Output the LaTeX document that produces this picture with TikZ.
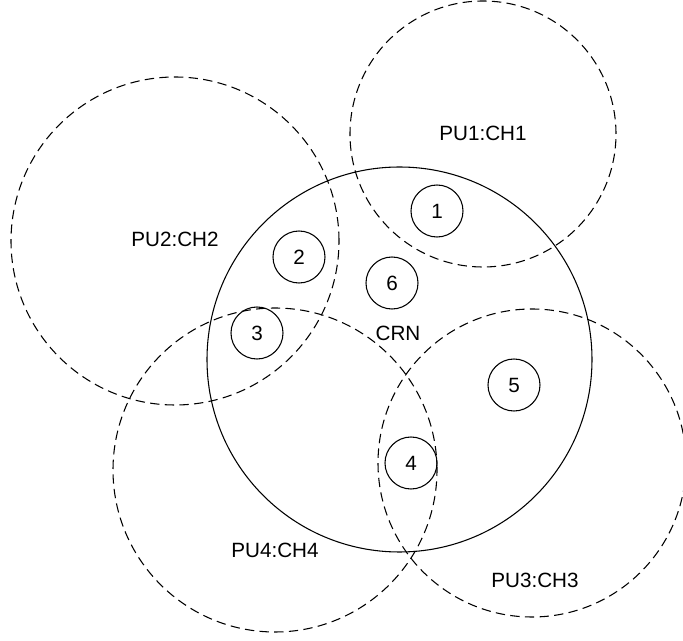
\documentclass[tikz,border=0pt]{standalone}
\usepackage{fontspec}
\setmainfont{Liberation Sans}
\begin{document}
\begin{tikzpicture}[x=0.75pt,y=-0.75pt,
  zone/.style={circle,draw,inner sep=0pt,line width=0.8pt},
  pu/.style={zone,dash pattern=on 7pt off 4pt},
  crn/.style={zone},
  user/.style={circle,draw,line width=0.8pt,minimum size=39pt,inner sep=0pt,font=\fontsize{15.5}{18}\selectfont},
  lbl/.style={font=\fontsize{15.5}{18}\selectfont,inner sep=0pt}]
\useasboundingbox (0,0) rectangle (683,641);
% cognitive radio network coverage
\node[crn,minimum size=385*0.75pt] (crn) at (399.5,359.5) {};
% primary user coverage areas
\node[pu,minimum size=266*0.75pt] (pu1) at (483,134) {};
\node[pu,minimum size=328*0.75pt] (pu2) at (175,241) {};
\node[pu,minimum size=308*0.75pt] (pu3) at (532,463) {};
\node[pu,minimum size=324*0.75pt] (pu4) at (275,470) {};
% labels
\node[lbl] (l1) at (483,133) {PU1:CH1};
\node[lbl] (l2) at (175,239) {PU2:CH2};
\node[lbl] (l3) at (535,580) {PU3:CH3};
\node[lbl] (l4) at (275,550) {PU4:CH4};
\node[lbl] (lc) at (398,333) {CRN};
% secondary users
\node[user] (u1) at (437,211) {1};
\node[user] (u2) at (299,257) {2};
\node[user] (u3) at (257,333) {3};
\node[user] (u4) at (411,463) {4};
\node[user] (u5) at (514,385) {5};
\node[user] (u6) at (392,283) {6};
\end{tikzpicture}
\end{document}
